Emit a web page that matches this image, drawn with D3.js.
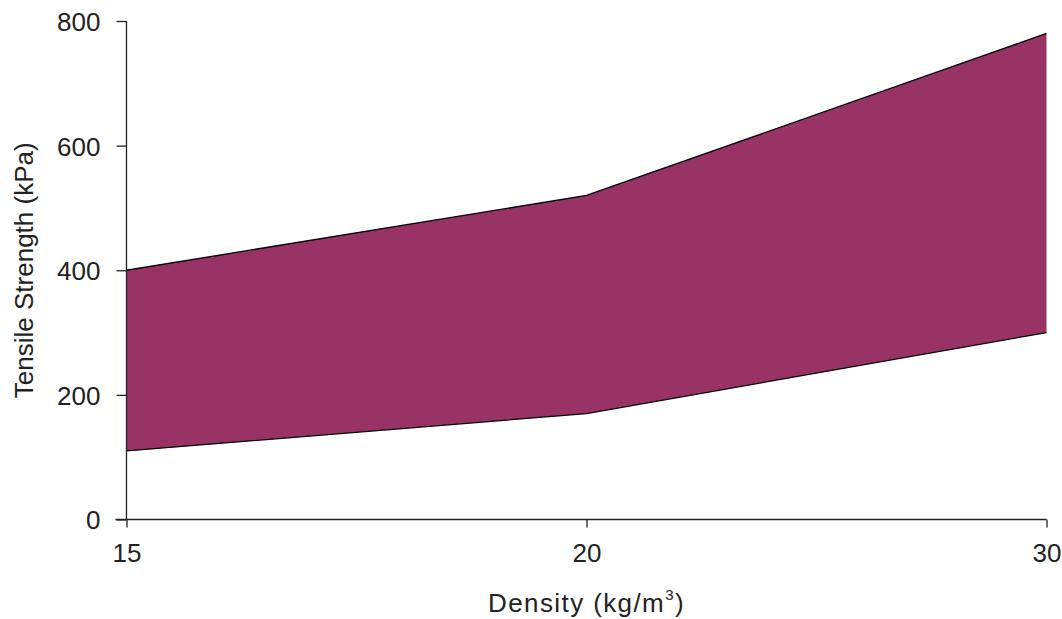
<!DOCTYPE html>
<html>
<head>
<meta charset="utf-8">
<script src="https://cdn.jsdelivr.net/npm/d3@7/dist/d3.min.js"></script>
<style>
  html, body { margin: 0; padding: 0; background: #fff; }
  svg { display: block; font-family: "Liberation Sans", Arial, sans-serif; }
</style>
</head>
<body>
<svg id="chart" width="1062" height="619"></svg>
<script>
const categories = ["15", "20", "30"];
const upperValues = [400, 520, 780];
const lowerValues = [110, 170, 300];
const yTicks = [0, 200, 400, 600, 800];
const xTitle = "Density (kg/m";
const yTitle = "Tensile Strength (kPa)";

(function () {
const svg = d3.select("#chart");
const mLeft = 126.5, mRight = 1046.5, mTop = 21, mBottom = 519.5;

const x = d3.scalePoint().domain(categories).range([mLeft, mRight]);
const y = d3.scaleLinear().domain([0, 800]).range([mBottom, mTop]);

const data = categories.map((c, i) => ({ c, lo: lowerValues[i], hi: upperValues[i] }));

svg.append("path")
  .datum(data)
  .attr("fill", "#993366")
  .attr("d", d3.area().x(d => x(d.c)).y0(d => y(d.lo)).y1(d => y(d.hi)));

const line = (key) => d3.line().x(d => x(d.c)).y(d => y(d[key]));
["hi", "lo"].forEach(k => {
  svg.append("path").datum(data)
    .attr("fill", "none").attr("stroke", "#000").attr("stroke-width", 1.3)
    .attr("d", line(k));
});

const yAxis = svg.append("g").attr("transform", `translate(${mLeft},0)`)
  .call(d3.axisLeft(y).tickValues(yTicks).tickSize(10).tickPadding(16).tickFormat(d3.format("d")));
const xAxis = svg.append("g").attr("transform", `translate(0,${mBottom})`)
  .call(d3.axisBottom(x).tickSize(8).tickPadding(16).tickSizeOuter(0));

[yAxis, xAxis].forEach(g => {
  g.select(".domain").attr("stroke", "#222").attr("stroke-width", 1.3);
  g.selectAll(".tick line").attr("stroke", "#222").attr("stroke-width", 1.3);
  g.selectAll(".tick text").attr("fill", "#222").style("font-size", "26px")
    .style("font-family", "'Liberation Sans', Arial, sans-serif");
});
yAxis.select(".domain").attr("d", `M0,${mTop}H0V${mBottom}`);
xAxis.select(".domain").attr("d", `M${mLeft - 11},0H${mRight}`);
yAxis.selectAll(".tick text").attr("dy", "0.36em");

const xt = svg.append("text")
  .attr("x", (mLeft + mRight) / 2).attr("y", 612)
  .attr("text-anchor", "middle")
  .attr("fill", "#222")
  .style("font-size", "26px").style("letter-spacing", "1.4px")
  .text(xTitle);
xt.append("tspan").attr("dy", -12).style("font-size", "15px").text("3");
xt.append("tspan").attr("dy", 12).text(")");

svg.append("text")
  .attr("transform", `translate(33,${(mTop + mBottom) / 2}) rotate(-90)`)
  .attr("text-anchor", "middle")
  .attr("fill", "#222")
  .style("font-size", "26px")
  .text(yTitle);
})();
</script>
</body>
</html>
